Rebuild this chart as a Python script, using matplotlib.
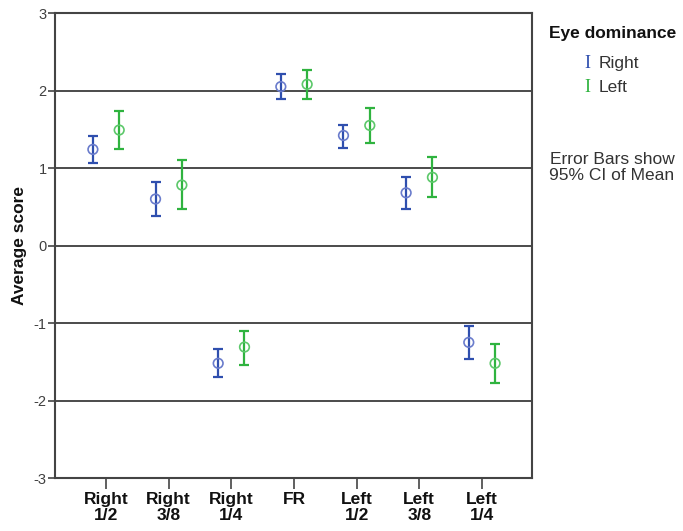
import matplotlib.pyplot as plt
import numpy as np

plt.rcParams['font.family'] = ['Liberation Sans', 'DejaVu Sans']

categories = ['Right\n1/2', 'Right\n3/8', 'Right\n1/4', 'FR', 'Left\n1/2', 'Left\n3/8', 'Left\n1/4']
right_mean = [1.24, 0.60, -1.52, 2.05, 1.42, 0.68, -1.25]
right_low = [1.07, 0.38, -1.70, 1.89, 1.26, 0.47, -1.47]
right_high = [1.41, 0.82, -1.34, 2.21, 1.56, 0.89, -1.04]
left_mean = [1.49, 0.78, -1.31, 2.08, 1.55, 0.88, -1.52]
left_low = [1.24, 0.47, -1.54, 1.89, 1.32, 0.62, -1.77]
left_high = [1.73, 1.10, -1.10, 2.26, 1.77, 1.14, -1.27]
y_ticks = [-3, -2, -1, 0, 1, 2, 3]

BLUE = '#2f4fae'
BLUE_M = '#6a7ccc'
GREEN = '#2fb33f'
GREEN_M = '#5cc86a'

fig = plt.figure(figsize=(6.83, 5.31), dpi=100, facecolor='white')
ax = fig.add_axes([0.0805, 0.0998, 0.6985, 0.8757])

x = np.arange(len(categories))
off = 0.21

def draw_series(xs, mean, low, high, c_bar, c_mark):
    mean = np.array(mean); low = np.array(low); high = np.array(high)
    ax.errorbar(xs, mean, yerr=[mean - low, high - mean], fmt='none', ecolor=c_bar,
                elinewidth=1.6, capsize=3.5, capthick=1.6, zorder=3)
    ax.scatter(xs, mean, s=48, facecolors='none', edgecolors=c_mark, linewidths=1.2, zorder=4)

draw_series(x - off, right_mean, right_low, right_high, BLUE, BLUE_M)
draw_series(x + off, left_mean, left_low, left_high, GREEN, GREEN_M)

for v in [-2, -1, 0, 1, 2]:
    ax.axhline(v, color='#1a1a1a', lw=1.1, zorder=1)

ax.set_xlim(-0.815, 6.8)
ax.set_ylim(-3, 3)
ax.set_yticks(y_ticks)
ax.set_yticklabels([str(t) for t in y_ticks], fontsize=10.5, color='#404040')
ax.set_xticks(x)
ax.set_xticklabels(categories, fontsize=12.5, fontweight='bold', color='#111111', linespacing=1.1)
ax.tick_params(axis='y', length=5, width=1.2, color='#444444', pad=1)
ax.tick_params(axis='x', length=8, width=1.2, color='#444444', pad=2)
for s in ax.spines.values():
    s.set_color('#444444'); s.set_linewidth(1.5)

ax.set_ylabel('Average score', fontsize=12.5, fontweight='bold', color='#111111')
ax.yaxis.set_label_coords(-0.058, 0.5)

# legend drawn as text
fig.text(0.897, 0.937, 'Eye dominance', fontsize=12.5, fontweight='bold', color='#111111', ha='center', va='center')
fig.text(0.856, 0.881, 'I', fontsize=13, color=BLUE, family='Liberation Serif', ha='left', va='center')
fig.text(0.877, 0.881, 'Right', fontsize=12.5, color='#333333', ha='left', va='center')
fig.text(0.856, 0.836, 'I', fontsize=13, color=GREEN, family='Liberation Serif', ha='left', va='center')
fig.text(0.877, 0.836, 'Left', fontsize=12.5, color='#333333', ha='left', va='center')
fig.text(0.896, 0.685, 'Error Bars show\n95% CI of Mean', fontsize=12.5, color='#333333',
         ha='center', va='center', linespacing=1.1)

fig.savefig('out.png', dpi=100, facecolor='white')
